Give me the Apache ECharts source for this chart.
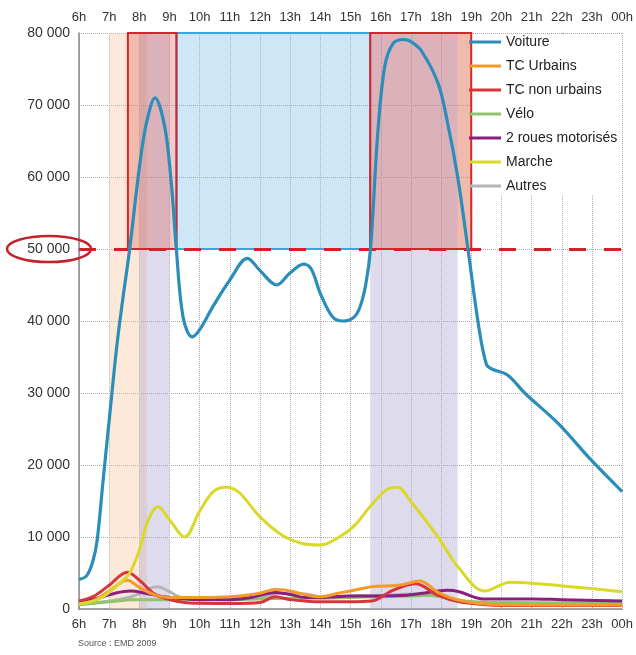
<!DOCTYPE html>
<html>
<head>
<meta charset="utf-8">
<script src="https://cdn.jsdelivr.net/npm/echarts@6/dist/echarts.min.js"></script>
<style>
html,body{margin:0;padding:0;background:#fff;}
#c{width:636px;height:655px;}
</style>
</head>
<body>
<div id="c"></div>
<script>
// ---- Data (hours as decimal, 24 = 00h) ----
const hourTicks = [6,7,8,9,10,11,12,13,14,15,16,17,18,19,20,21,22,23,24];
const legendNames = ['Voiture','TC Urbains','TC non urbains','Vélo','2 roues motorisés','Marche','Autres'];

const voitureH = [6,6.25,6.45,6.6,6.8,7,7.25,7.45,7.68,8,8.23,8.52,8.84,9.06,9.22,9.45,9.75,10,10.45,11,11.58,12,12.55,13,13.45,13.7,14,14.4,14.75,15.1,15.3,15.5,15.66,15.9,16.13,16.4,16.75,17,17.35,17.9,18.22,18.55,18.88,19.23,19.5,19.7,20.2,20.77,21.87,22.97,24];
const voitureV = [4100,4600,6500,9500,17900,26200,36400,43000,50000,61300,67400,71000,67000,59100,50300,40500,37800,38800,42100,45700,48700,47000,45000,46700,47900,47200,43800,40600,40000,40500,41800,45000,50000,66000,75300,78500,79100,78800,77500,73000,67400,60000,50300,39700,34000,33300,32500,30000,25800,20700,16300];

const marcheH = [6,6.4,6.8,7.35,7.68,8,8.3,8.62,9,9.5,10,10.45,10.85,11.3,12,12.75,13.4,14,14.7,15.2,15.6,16.25,16.55,17,17.9,18.55,19.45,20.3,21.2,22.3,24];
const marcheV = [700,1000,1700,3600,5000,8200,12400,14200,12400,10000,13600,16300,16900,16200,12800,10200,9100,8900,10200,11900,14000,16700,16900,14900,10000,5900,2500,3700,3500,3100,2400];

const tcNonUrbH = [6,6.5,7,7.6,8,8.5,9,9.5,10,11,12,12.5,13,13.5,14,15,15.7,16.4,17.15,17.9,18.6,19.5,20,24];
const tcNonUrbV = [1100,1800,3300,5100,4000,2100,1300,900,800,750,900,1700,1300,1100,1000,1000,1100,2600,3500,1900,1000,600,500,500];

const tcUrbH = [6,6.5,7,7.6,8,8.5,9,10,11,12,12.5,13,13.5,14,14.6,15,15.7,16.6,17.3,17.9,18.5,19.2,20,24];
const tcUrbV = [700,1200,2500,4000,3000,2000,1600,1600,1700,2200,2700,2500,2000,1700,2200,2500,3100,3300,3900,2300,1300,800,600,550];

const deuxRouesH = [6,6.7,7.2,7.7,8.2,8.8,9.3,10,11,11.7,12.5,13,13.5,14,15,16,16.8,17.4,18.2,18.6,19.4,20,21,22,24];
const deuxRouesV = [900,1600,2200,2500,2200,1700,1500,1300,1300,1600,2300,2000,1600,1600,1800,1800,1900,2200,2600,2400,1400,1400,1400,1300,1100];

const veloH = [6,7,7.8,8.5,9,10,11,12,13,14,15,16,17,17.6,18.3,18.8,19.5,24];
const veloV = [600,1000,1300,1300,1300,1400,1300,1400,1500,1500,1600,1700,1800,1900,1500,1100,900,800];

const autresH = [6,7,7.8,8.6,9,9.4,10,11,12,12.8,13.5,14,15,16,17,18,18.6,19.5,24];
const autresV = [700,1100,1800,3100,2400,1600,1500,1500,1700,2200,2100,1700,1800,1900,2100,1700,1100,900,800];

// highlighted periods (hours) and threshold
const threshold = 50000;
const yMax = 80000;
const morningPeach = [7.0, 8.25];
const morningLavender = [8.0, 9.0];
const morningBox = [7.62, 9.23];
const middayBox = [9.23, 15.65];
const eveningBox = [15.65, 19.0];
const eveningLavender = [15.65, 18.55];
const eveningPeach = [18.55, 19.0];

const colors = {
  voiture:'#2b8db8', tcUrb:'#f39a2b', tcNonUrb:'#d8353b', velo:'#8fc46b',
  deuxRoues:'#8c1f7e', marche:'#d9d92a', autres:'#b5b5b5'
};

function zip(h, v){ return h.map((x,i)=>[x, v[i]]); }
function fmtThousands(v){ return String(v).replace(/\B(?=(\d{3})+(?!\d))/g,' '); }
function hourLabel(v){ return (v===24 ? '00' : v) + 'h'; }

const FONT = 'Liberation Sans';
const chart = echarts.init(document.getElementById('c'), null, {renderer:'canvas'});

const peach = 'rgba(250,196,155,0.38)';
const lavender = 'rgba(172,166,208,0.40)';
const blueFill = 'rgba(130,195,235,0.40)';
const redFill = 'rgba(212,80,70,0.30)';

function lineSeries(name, data, color, width, z){
  return {name, type:'line', data, smooth:0.35, symbol:'none', z,
    lineStyle:{color, width}, itemStyle:{color}};
}

const voitureSeries = lineSeries('Voiture', zip(voitureH, voitureV), colors.voiture, 3.2, 9);
voitureSeries.markArea = {
  silent:true,
  data:[
    [{xAxis:morningPeach[0], yAxis:0, itemStyle:{color:peach}}, {xAxis:morningPeach[1], yAxis:yMax}],
    [{xAxis:morningLavender[0], yAxis:0, itemStyle:{color:lavender}}, {xAxis:morningLavender[1], yAxis:yMax}],
    [{xAxis:eveningLavender[0], yAxis:0, itemStyle:{color:lavender}}, {xAxis:eveningLavender[1], yAxis:yMax}],
    [{xAxis:eveningPeach[0], yAxis:threshold, itemStyle:{color:peach}}, {xAxis:eveningPeach[1], yAxis:yMax}],
    [{xAxis:middayBox[0], yAxis:threshold, itemStyle:{color:blueFill, borderColor:'#3aa6da', borderWidth:2}}, {xAxis:middayBox[1], yAxis:yMax}],
    [{xAxis:morningBox[0], yAxis:threshold, itemStyle:{color:redFill, borderColor:'#d2262d', borderWidth:2}}, {xAxis:morningBox[1], yAxis:yMax}],
    [{xAxis:eveningBox[0], yAxis:threshold, itemStyle:{color:redFill, borderColor:'#d2262d', borderWidth:2}}, {xAxis:eveningBox[1], yAxis:yMax}]
  ]
};
voitureSeries.markLine = {
  silent:true, symbol:'none', label:{show:false},
  lineStyle:{color:'#d42128', width:3, type:[17,18]},
  data:[{yAxis:threshold}]
};

const axisLabelX = {formatter:hourLabel, fontSize:13, color:'#333', fontFamily:FONT, margin:9};

chart.setOption({
  animation:false,
  backgroundColor:'#fff',
  textStyle:{fontFamily:FONT},
  grid:{left:79, right:12, top:33, bottom:46},
  legend:{
    data:legendNames, orient:'vertical', left:469, top:34, padding:0,
    icon:'rect', itemWidth:32, itemHeight:3, itemGap:8,
    textStyle:{fontSize:14, color:'#222', fontFamily:FONT, lineHeight:16},
    z:10
  },
  xAxis:[
    {type:'value', min:6, max:24, interval:1, position:'bottom',
     axisLine:{show:true, lineStyle:{color:'#888', width:1.5}}, axisTick:{show:false},
     axisLabel:axisLabelX,
     splitLine:{show:true, lineStyle:{type:'dotted', color:'#b0b0b0'}}},
    {type:'value', min:6, max:24, interval:1, position:'top',
     axisLine:{show:false}, axisTick:{show:false},
     axisLabel:axisLabelX, splitLine:{show:false}}
  ],
  yAxis:{type:'value', min:0, max:yMax, interval:10000,
     axisLine:{show:true, lineStyle:{color:'#888', width:1.5}}, axisTick:{show:false},
     axisLabel:{formatter:fmtThousands, fontSize:14, color:'#333', fontFamily:FONT, margin:9},
     splitLine:{show:true, lineStyle:{type:'dotted', color:'#a8a8a8'}}},
  series:[
    lineSeries('Autres', zip(autresH, autresV), colors.autres, 3, 3),
    lineSeries('Vélo', zip(veloH, veloV), colors.velo, 3, 4),
    lineSeries('2 roues motorisés', zip(deuxRouesH, deuxRouesV), colors.deuxRoues, 3, 5),
    lineSeries('TC non urbains', zip(tcNonUrbH, tcNonUrbV), colors.tcNonUrb, 3, 6),
    lineSeries('TC Urbains', zip(tcUrbH, tcUrbV), colors.tcUrb, 3, 7),
    lineSeries('Marche', zip(marcheH, marcheV), colors.marche, 3, 8),
    voitureSeries
  ]
});

// annotations positioned from the chart's own scales
const yThr = chart.convertToPixel({yAxisIndex:0}, threshold);
const xLegendLeft = chart.convertToPixel({xAxisIndex:0}, eveningBox[1]);
const yTop = chart.convertToPixel({yAxisIndex:0}, yMax);
const yLegendBottom = chart.convertToPixel({yAxisIndex:0}, 57700);
const xRight = chart.convertToPixel({xAxisIndex:0}, 24);
chart.setOption({
  graphic:[
    {type:'rect', z:2, silent:true,
     shape:{x:xLegendLeft+1.5, y:yTop+1, width:xRight-xLegendLeft-2, height:yLegendBottom-yTop},
     style:{fill:'#fff'}},
    {type:'ellipse', z:10, silent:true,
     shape:{cx:49, cy:yThr, rx:42, ry:13},
     style:{fill:'none', stroke:'#c4222b', lineWidth:2.5}},
    {type:'text', left:78, top:639, silent:true,
     style:{text:'Source : EMD 2009', fontSize:9, fill:'#555', fontFamily:FONT}}
  ]
});
</script>
</body>
</html>
